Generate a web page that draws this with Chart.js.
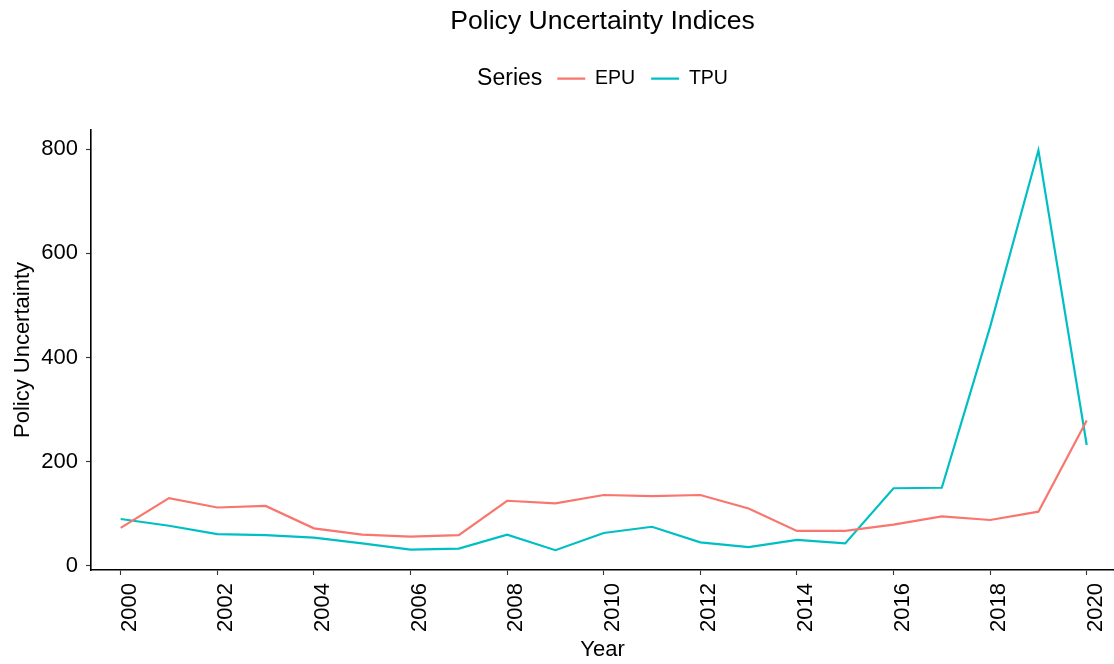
<!DOCTYPE html>
<html>
<head>
<meta charset="utf-8">
<script src="https://cdn.jsdelivr.net/npm/chart.js@4"></script>
<style>
  body { margin: 0; background: #fff; }
  #wrap { width: 1114px; height: 664px; }
</style>
</head>
<body>
<div id="wrap"><canvas id="uncChart" width="1114" height="664"></canvas></div>
<script>
// data
const years = [2000, 2001, 2002, 2003, 2004, 2005, 2006, 2007, 2008, 2009, 2010,
               2011, 2012, 2013, 2014, 2015, 2016, 2017, 2018, 2019, 2020];
const epu = [73, 130, 112, 115, 72, 60, 56, 59, 125, 120, 136, 134, 136, 110, 67, 67, 79, 95, 88, 104, 279];
const tpu = [90, 77, 61, 59, 54, 43, 31, 33, 60, 30, 63, 75, 45, 36, 50, 43, 149, 150, 459, 798, 232];
const xTicks = [2000, 2002, 2004, 2006, 2008, 2010, 2012, 2014, 2016, 2018, 2020];
const yTicks = [0, 200, 400, 600, 800];

const FONT = '"Liberation Sans", Arial, Helvetica, sans-serif';
const seriesFont = '23px ' + FONT;

// "Series" legend title sits inline, left of the items (ggplot style)
// also lifts title + legend back to the top of the canvas
const legendTitle = {
  id: 'legendTitle',
  afterLayout(chart) {
    const ctx = chart.ctx;
    ctx.save();
    ctx.font = seriesFont;
    const w = ctx.measureText('Series').width;
    ctx.restore();
    const dx = (w + 15) / 2;
    const lg = chart.legend, tb = chart.titleBlock;
    lg.left += dx;
    lg.right += dx;
    const dy = tb.top;
    tb.top -= dy; tb.bottom -= dy;
    lg.top -= dy; lg.bottom -= dy;
  },
  afterDraw(chart) {
    const hb = chart.legend.legendHitBoxes[0];
    if (!hb) return;
    const ctx = chart.ctx;
    ctx.save();
    ctx.font = seriesFont;
    ctx.fillStyle = '#000';
    ctx.textAlign = 'right';
    ctx.textBaseline = 'middle';
    ctx.fillText('Series', hb.left - 15, hb.top + hb.height / 2);
    ctx.restore();
  }
};

const toPts = vals => vals.map((v, i) => ({ x: years[i], y: v }));

const axisCommon = {
  border: { display: true, color: '#000', width: 1.6 },
  grid: { drawOnChartArea: false, drawTicks: true, tickLength: 5, color: '#333', tickWidth: 1.1 },
};

new Chart(document.getElementById('uncChart'), {
  type: 'line',
  data: {
    datasets: [
      { label: 'EPU', data: toPts(epu), borderColor: '#F8766D', backgroundColor: '#F8766D',
        borderWidth: 2.2, pointRadius: 0, tension: 0 },
      { label: 'TPU', data: toPts(tpu), borderColor: '#00BFC4', backgroundColor: '#00BFC4',
        borderWidth: 2.2, pointRadius: 0, tension: 0 }
    ]
  },
  options: {
    responsive: false,
    animation: false,
    devicePixelRatio: 1,
    layout: { padding: 0 },
    plugins: {
      tooltip: { enabled: false },
      title: {
        display: true, text: 'Policy Uncertainty Indices', fullSize: false,
        color: '#000', font: { family: FONT, size: 26.6, weight: 'normal' },
        padding: { top: 6, bottom: 15 }
      },
      legend: {
        display: true, position: 'top', fullSize: false,
        labels: {
          usePointStyle: true, pointStyle: 'line', pointStyleWidth: 28,
          color: '#000', font: { family: FONT, size: 19.5 }, padding: 16
        }
      }
    },
    scales: {
      x: {
        type: 'linear', min: 1999.385, max: 2020.565,
        ...axisCommon,
        afterBuildTicks: s => { s.ticks = xTicks.map(v => ({ value: v })); },
        afterFit: s => { s.height = 94; s.paddingLeft = 0; s.paddingRight = 0; },
        ticks: {
          color: '#000', font: { family: FONT, size: 22 }, padding: 8, labelOffset: 9,
          minRotation: 90, maxRotation: 90, autoSkip: false,
          callback: v => String(v)
        },
        title: { display: true, text: 'Year', color: '#000',
                 font: { family: FONT, size: 22 }, padding: { top: 0, bottom: 1 } }
      },
      y: {
        type: 'linear', min: -8, max: 837,
        ...axisCommon,
        afterBuildTicks: s => { s.ticks = yTicks.map(v => ({ value: v })); },
        afterFit: s => { s.width = 91; s.paddingTop = 130; },
        ticks: { color: '#000', font: { family: FONT, size: 22 }, padding: 8 },
        title: { display: true, text: 'Policy Uncertainty', color: '#000',
                 font: { family: FONT, size: 22 }, padding: { top: 10, bottom: 0 } }
      }
    }
  },
  plugins: [legendTitle]
});
</script>
</body>
</html>
